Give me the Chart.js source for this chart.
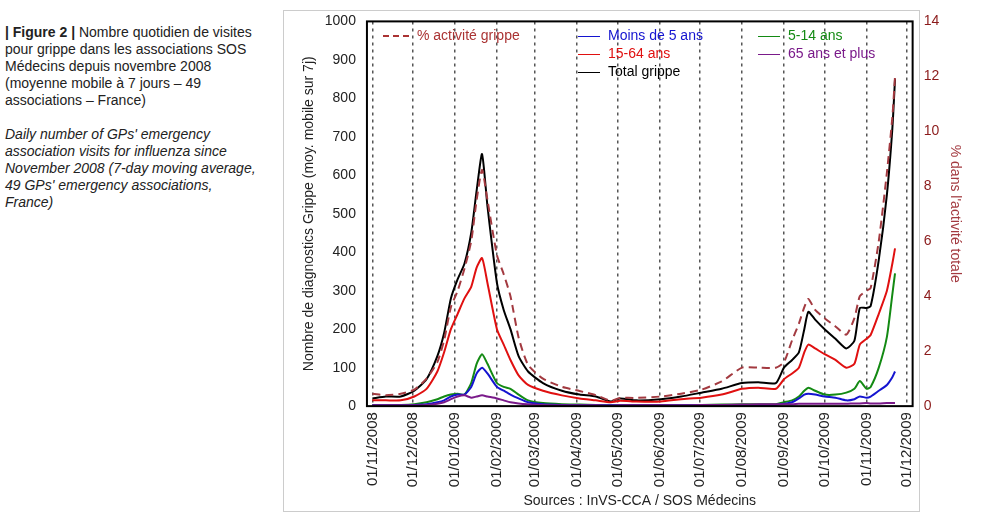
<!DOCTYPE html>
<html><head><meta charset="utf-8">
<script src="https://cdn.jsdelivr.net/npm/chart.js@4/dist/chart.umd.min.js"></script>
<style>
body{margin:0;background:#fff;font-family:Arial,"Liberation Sans",sans-serif;}
#cap{position:absolute;left:5px;top:24px;width:252px;font-size:14px;line-height:17px;color:#222;}
#frame{position:absolute;left:283px;top:10px;width:635px;height:500px;border:1px solid #ccc;}
#wrap{position:absolute;left:283px;top:10px;width:700px;height:500px;}
.lg{position:absolute;font-size:14px;white-space:nowrap;}
.lg i{display:inline-block;width:22px;height:0;border-top:1px solid;vertical-align:middle;margin-right:8px;}
</style></head><body>
<div id="cap"><b>| Figure 2 |</b> Nombre quotidien de visites pour grippe dans les associations SOS Médecins depuis novembre 2008 (moyenne mobile à 7 jours – 49 associations – France)<br><br><i>Daily number of GPs' emergency association visits for influenza since November 2008 (7-day moving average, 49 GPs' emergency associations, France)</i></div>
<div id="frame"></div>
<div id="wrap"><canvas id="c"></canvas>
<div class="lg" style="left:100px;top:17px;color:#a33"><i style="border-top:2px dashed #a33;width:26px"></i>% activité grippe</div>
<div class="lg" style="left:295px;top:17px;color:#1414d0"><i style="border-color:#1414d0"></i>Moins de 5 ans</div>
<div class="lg" style="left:475px;top:17px;color:#138a13"><i style="border-color:#138a13"></i>5-14 ans</div>
<div class="lg" style="left:295px;top:35px;color:#e01010"><i style="border-color:#e01010"></i>15-64 ans</div>
<div class="lg" style="left:475px;top:35px;color:#7a1a8a"><i style="border-color:#7a1a8a"></i>65 ans et plus</div>
<div class="lg" style="left:295px;top:53px;color:#000"><i style="border-color:#000"></i>Total grippe</div>
</div>
<script>
// days since 01/11/2008
const days = [0,10,21,31,40,48,53,58,63,68,73,77,81,85,92,97,102,108,115,126,140,153,165,176,183,195,213,228,243,258,273,285,298,304,310,315,319,322,327,334,342,350,356,360,365,368,374,380,384,386];
const total = [20,25,25,40,70,130,190,280,330,370,450,560,655,520,320,250,200,130,90,60,40,30,25,12,20,15,18,25,35,45,60,62,60,100,120,140,200,245,225,200,175,150,170,255,255,260,380,550,720,850];
const age15_64 = [15,15,15,25,45,90,140,200,240,280,310,360,385,320,200,160,120,80,55,40,28,20,15,10,14,12,12,18,22,30,45,48,45,70,85,100,140,160,150,135,120,100,110,160,175,185,240,300,370,410];
const age5_14 = [3,3,3,5,10,18,25,30,32,30,60,110,135,110,60,50,45,30,15,8,5,4,3,2,3,3,3,3,3,4,5,5,5,10,15,25,40,48,40,30,30,35,45,65,45,50,100,180,290,345];
const under5 = [2,2,2,3,5,10,15,25,30,30,50,85,100,85,50,40,30,20,10,5,3,2,2,2,2,2,2,2,2,3,3,3,3,6,10,20,30,32,30,25,22,15,18,25,22,25,40,55,75,90];
const over65 = [2,2,2,2,3,6,10,18,25,28,22,25,28,25,20,15,10,7,5,3,2,2,2,1,2,2,2,2,3,3,4,5,5,5,5,6,6,6,6,6,6,6,7,7,8,7,7,8,8,8];
const pctGrippe = [0.45,0.4,0.45,0.6,1,1.6,2.4,3.6,4.2,5,6,7.5,8.6,7.5,5.5,4.8,4,2.5,1.5,1,0.7,0.55,0.4,0.2,0.3,0.3,0.35,0.45,0.6,0.9,1.4,1.4,1.4,1.6,2.4,3,3.6,3.9,3.5,3.2,2.9,2.6,3.2,4,4.2,4.3,6,8.5,10.5,12];
const monthDays = [0,30,61,92,120,151,181,212,242,273,304,334,365,395];
const monthLabels = ['01/11/2008','01/12/2008','01/01/2009','01/02/2009','01/03/2009','01/04/2009','01/05/2009','01/06/2009','01/07/2009','01/08/2009','01/09/2009','01/10/2009','01/11/2009','01/12/2009'];

const pts = (arr) => arr.map((v, i) => ({ x: days[i], y: v }));
const line = (label, arr, color, extra) => Object.assign({
  label, data: pts(arr), borderColor: color, borderWidth: 2, pointRadius: 0, tension: 0.2, yAxisID: 'y'
}, extra || {});

const borderPlugin = {
  id: 'plotBorder',
  afterDraw: (chart) => {
    const { ctx, chartArea: a } = chart;
    ctx.save();
    ctx.strokeStyle = '#000';
    ctx.lineWidth = 2;
    ctx.strokeRect(a.left, a.top, a.right - a.left, a.bottom - a.top);
    ctx.restore();
  },
};

new Chart(document.getElementById('c'), {
  type: 'line',
  plugins: [borderPlugin],
  data: {
    datasets: [
      line('% activité grippe', pctGrippe, '#a33a40', { yAxisID: 'y2', borderDash: [8, 5] }),
      line('65 ans et plus', over65, '#7a1a8a'),
      line('Moins de 5 ans', under5, '#1414d0'),
      line('5-14 ans', age5_14, '#138a13'),
      line('15-64 ans', age15_64, '#e01010'),
      line('Total grippe', total, '#000'),
    ],
  },
  options: {
    responsive: true,
    maintainAspectRatio: false,
    animation: false,
    layout: { padding: { top: 10, right: 16, left: 14, bottom: 0 } },
    plugins: { legend: { display: false }, tooltip: false },
    scales: {
      x: {
        type: 'linear', min: -4, max: 399,
        afterBuildTicks: (s) => { s.ticks = monthDays.map((v) => ({ value: v })); },
        ticks: { callback: (v) => monthLabels[monthDays.indexOf(v)], maxRotation: 90, minRotation: 90, color: '#222', font: { size: 15 }, autoSkip: false, padding: 6 },
        grid: { color: '#555', lineWidth: 1.5, tickLength: 0, drawTicks: false },
        border: { dash: [3, 4], display: false },
        title: { display: true, text: 'Sources : InVS-CCA / SOS Médecins', color: '#222', font: { size: 14 }, padding: 0 },
      },
      y: {
        min: 0, max: 1000,
        ticks: { stepSize: 100, color: '#222', font: { size: 14 }, callback: (v) => String(v) },
        grid: { display: false },
        title: { display: true, text: 'Nombre de diagnostics Grippe (moy. mobile sur 7j)', color: '#222', font: { size: 14 } },
      },
      y2: {
        position: 'right', min: 0, max: 14,
        ticks: { stepSize: 2, color: '#8b1a1a', font: { size: 14 } },
        grid: { display: false },
        title: { display: true, text: "% dans l'activité totale", color: '#a33a40', font: { size: 14 } },
      },
    },
  },
});
</script>
</body></html>
